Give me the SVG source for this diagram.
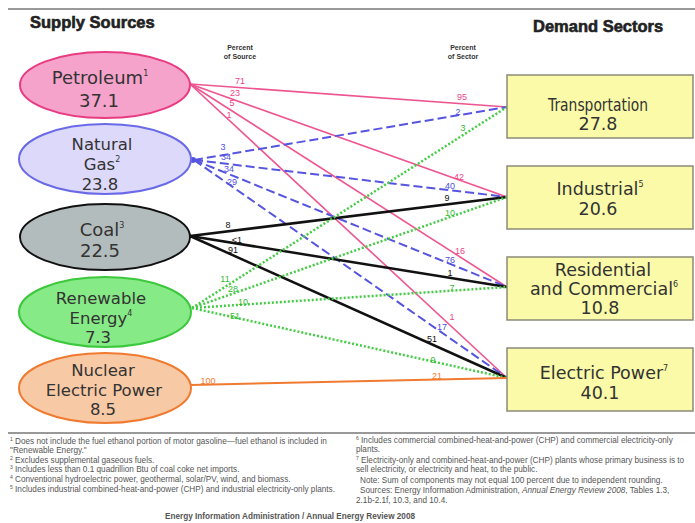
<svg xmlns="http://www.w3.org/2000/svg" width="695" height="523" viewBox="0 0 695 523">
<style>
.hd{font-family:"Liberation Sans",Arial,sans-serif;font-weight:bold;font-size:16.5px;fill:#222;stroke:#222;stroke-width:0.6}
.pc{font-family:"Liberation Sans",Arial,sans-serif;font-weight:bold;font-size:7px;fill:#333;text-anchor:middle}
.nl{font-family:"DejaVu Sans",sans-serif;font-size:18px;fill:#333;text-anchor:middle}
.ns{font-size:16.5px}
.bl{font-family:"DejaVu Sans",sans-serif;font-size:17.5px;fill:#333;text-anchor:middle}
.sup{font-size:8px}
.lab{font-family:"Liberation Sans",Arial,sans-serif;font-size:9px;text-anchor:middle}
.fn{font-family:"Liberation Sans",Arial,sans-serif;font-size:8.2px;fill:#555}
.fs{font-size:5px}
.box{fill:#fafaa8;stroke:#8a8a7a;stroke-width:1.5}
.pet{stroke:#ee5590;stroke-width:1.6;fill:none}
.gas{stroke:#5555e0;stroke-width:2;stroke-dasharray:9 4;fill:none}
.coal{stroke:#111;stroke-width:2.5;fill:none}
.ren{stroke:#44cc44;stroke-width:2.5;stroke-dasharray:2 2;fill:none}
.nuc{stroke:#f07a30;stroke-width:2;fill:none}
.rule{stroke:#999;stroke-width:2}
</style>
<rect width="695" height="523" fill="#fff"/>
<line class="rule" x1="8" y1="9" x2="695" y2="9"/>
<text class="hd" x="30" y="28">Supply Sources</text>
<text class="hd" x="533" y="32">Demand Sectors</text>
<text class="pc" x="240" y="50">Percent</text>
<text class="pc" x="240" y="59">of Source</text>
<text class="pc" x="463" y="50">Percent</text>
<text class="pc" x="463" y="59">of Sector</text>

<g id="connectors">
<g id="petroleum-lines">
<line class="pet" x1="190" y1="84" x2="507" y2="107"/>
<line class="pet" x1="190" y1="84" x2="507" y2="197"/>
<line class="pet" x1="190" y1="84" x2="507" y2="287"/>
<line class="pet" x1="190" y1="84" x2="507" y2="378"/>
</g>
<g id="gas-lines">
<line class="gas" x1="194" y1="160" x2="507" y2="107"/>
<line class="gas" x1="194" y1="160" x2="507" y2="197"/>
<line class="gas" x1="194" y1="160" x2="507" y2="287"/>
<line class="gas" x1="194" y1="160" x2="507" y2="378"/>
<circle cx="193" cy="160" r="3" fill="#5555e0"/>
</g>
<g id="coal-lines">
<line class="coal" x1="190" y1="236" x2="507" y2="197"/>
<line class="coal" x1="190" y1="236" x2="507" y2="287"/>
<line class="coal" x1="190" y1="236" x2="507" y2="378"/>
</g>
<g id="renewable-lines">
<line class="ren" x1="192" y1="308" x2="507" y2="107"/>
<line class="ren" x1="192" y1="308" x2="507" y2="197"/>
<line class="ren" x1="192" y1="308" x2="507" y2="287"/>
<line class="ren" x1="192" y1="308" x2="507" y2="378"/>
</g>
<g id="nuclear-lines">
<line class="nuc" x1="191" y1="385" x2="507" y2="378"/>
</g>
<g id="labels">
<g fill="#ee4488">
<text class="lab" x="240" y="84">71</text>
<text class="lab" x="235" y="96">23</text>
<text class="lab" x="232" y="106">5</text>
<text class="lab" x="229" y="118">1</text>
<text class="lab" x="462" y="100">95</text>
<text class="lab" x="459" y="180">42</text>
<text class="lab" x="460" y="254">16</text>
<text class="lab" x="452" y="320">1</text>
</g>
<g fill="#4f4fe0">
<text class="lab" x="223" y="150">3</text>
<text class="lab" x="226" y="160">34</text>
<text class="lab" x="229" y="172">34</text>
<text class="lab" x="232" y="185">29</text>
<text class="lab" x="458" y="115">2</text>
<text class="lab" x="450" y="189">40</text>
<text class="lab" x="450" y="263">76</text>
<text class="lab" x="442" y="330">17</text>
</g>
<g fill="#111">
<text class="lab" x="228" y="228">8</text>
<text class="lab" x="237" y="243">&lt;1</text>
<text class="lab" x="233" y="253">91</text>
<text class="lab" x="447" y="201">9</text>
<text class="lab" x="450" y="276">1</text>
<text class="lab" x="432" y="342">51</text>
</g>
<g fill="#33bb33">
<text class="lab" x="225" y="282">11</text>
<text class="lab" x="233" y="292">28</text>
<text class="lab" x="243" y="305">10</text>
<text class="lab" x="235" y="319">51</text>
<text class="lab" x="463" y="131">3</text>
<text class="lab" x="450" y="216">10</text>
<text class="lab" x="452" y="291">7</text>
<text class="lab" x="433" y="363">9</text>
</g>
<g fill="#f07a30">
<text class="lab" x="208" y="384">100</text>
<text class="lab" x="437" y="379">21</text>
</g>
</g>
</g>

<g id="petroleum">
<ellipse cx="105" cy="85" rx="85" ry="33" fill="#f5a3cb" stroke="#e83c82" stroke-width="2"/>
<text class="nl" x="100" y="84">Petroleum<tspan class="sup" dy="-8">1</tspan></text>
<text class="nl" x="99" y="107">37.1</text>
</g>
<g id="natural-gas">
<ellipse cx="105" cy="159" rx="86" ry="35" fill="#ddd9fa" stroke="#6a6ae8" stroke-width="2"/>
<text class="nl ns" x="102" y="150">Natural</text>
<text class="nl ns" x="102" y="170">Gas<tspan class="sup" dy="-8">2</tspan></text>
<text class="nl ns" x="100" y="190">23.8</text>
</g>
<g id="coal">
<ellipse cx="105" cy="237" rx="85" ry="33" fill="#b3bcbc" stroke="#111" stroke-width="2"/>
<text class="nl" x="102" y="236">Coal<tspan class="sup" dy="-8">3</tspan></text>
<text class="nl" x="100" y="257">22.5</text>
</g>
<g id="renewable-energy">
<ellipse cx="105" cy="312" rx="86" ry="35" fill="#86ea86" stroke="#3cc83c" stroke-width="2"/>
<text class="nl ns" x="101" y="304">Renewable</text>
<text class="nl ns" x="101" y="324">Energy<tspan class="sup" dy="-8">4</tspan></text>
<text class="nl ns" x="98" y="343">7.3</text>
</g>
<g id="nuclear">
<ellipse cx="105" cy="388" rx="86" ry="35" fill="#f8c9a5" stroke="#f07a30" stroke-width="2"/>
<text class="nl ns" x="103" y="376">Nuclear</text>
<text class="nl ns" x="104" y="396">Electric Power</text>
<text class="nl ns" x="103" y="415">8.5</text>
</g>

<g id="transportation">
<rect class="box" x="507" y="75" width="186" height="63"/>
<text class="bl" x="598" y="111" textLength="100" lengthAdjust="spacingAndGlyphs">Transportation</text>
<text class="bl" x="598" y="130">27.8</text>
</g>
<g id="industrial">
<rect class="box" x="507" y="166" width="186" height="63"/>
<text class="bl" x="600" y="195">Industrial<tspan class="sup" dy="-8">5</tspan></text>
<text class="bl" x="598" y="215">20.6</text>
</g>
<g id="residential-commercial">
<rect class="box" x="507" y="257" width="186" height="63"/>
<text class="bl" x="603" y="276">Residential</text>
<text class="bl" x="604" y="295">and Commercial<tspan class="sup" dy="-8">6</tspan></text>
<text class="bl" x="600" y="314">10.8</text>
</g>
<g id="electric-power">
<rect class="box" x="507" y="348" width="186" height="63"/>
<text class="bl" x="604" y="379">Electric Power<tspan class="sup" dy="-8">7</tspan></text>
<text class="bl" x="600" y="399">40.1</text>
</g>

<line class="rule" x1="8" y1="433" x2="695" y2="433"/>
<g id="footnotes">
<text class="fn" x="10" y="444"><tspan class="fs" dy="-3">1</tspan><tspan dy="3"> Does not include the fuel ethanol portion of motor gasoline—fuel ethanol is included in</tspan></text>
<text class="fn" x="10" y="453">"Renewable Energy."</text>
<text class="fn" x="10" y="463"><tspan class="fs" dy="-3">2</tspan><tspan dy="3"> Excludes supplemental gaseous fuels.</tspan></text>
<text class="fn" x="10" y="472"><tspan class="fs" dy="-3">3</tspan><tspan dy="3"> Includes less than 0.1 quadrillion Btu of coal coke net imports.</tspan></text>
<text class="fn" x="10" y="482"><tspan class="fs" dy="-3">4</tspan><tspan dy="3"> Conventional hydroelectric power, geothermal, solar/PV, wind, and biomass.</tspan></text>
<text class="fn" x="10" y="492"><tspan class="fs" dy="-3">5</tspan><tspan dy="3"> Includes industrial combined-heat-and-power (CHP) and industrial electricity-only plants.</tspan></text>
<text class="fn" x="356" y="443"><tspan class="fs" dy="-3">6</tspan><tspan dy="3"> Includes commercial combined-heat-and-power (CHP) and commercial electricity-only</tspan></text>
<text class="fn" x="356" y="452">plants.</text>
<text class="fn" x="356" y="463"><tspan class="fs" dy="-3">7</tspan><tspan dy="3"> Electricity-only and combined-heat-and-power (CHP) plants whose primary business is to</tspan></text>
<text class="fn" x="356" y="472">sell electricity, or electricity and heat, to the public.</text>
<text class="fn" x="360" y="483">Note: Sum of components may not equal 100 percent due to independent rounding.</text>
<text class="fn" x="360" y="493">Sources: Energy Information Administration, <tspan font-style="italic">Annual Energy Review 2008</tspan>, Tables 1.3,</text>
<text class="fn" x="356" y="503">2.1b-2.1f, 10.3, and 10.4.</text>
<text class="fn" x="290" y="519" text-anchor="middle" font-weight="bold" font-size="6.5">Energy Information Administration / Annual Energy Review 2008</text>
</g>
</svg>
